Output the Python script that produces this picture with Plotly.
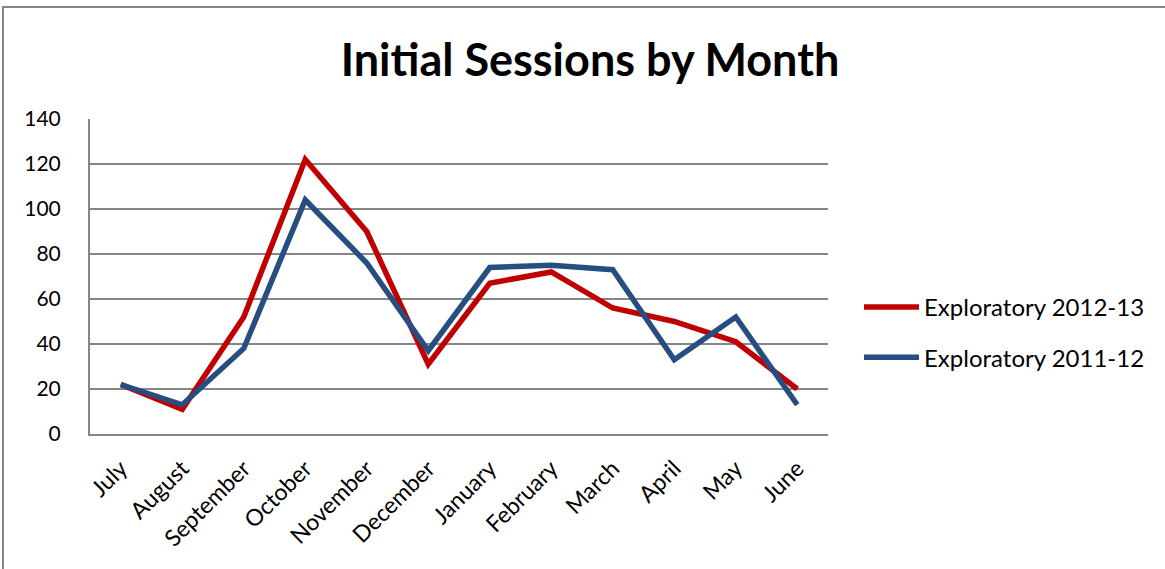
import plotly.graph_objects as go

months = ["July", "August", "September", "October", "November", "December",
          "January", "February", "March", "April", "May", "June"]
exploratory_2012_13 = [22, 11, 52, 122, 90, 31, 67, 72, 56, 50, 41, 20]
exploratory_2011_12 = [22, 13, 38, 104, 76, 37, 74, 75, 73, 33, 52, 13]
y_ticks = [0, 20, 40, 60, 80, 100, 120, 140]

W, H = 1165, 569
ml, mr, mt, mb = 90, 337, 119, 135
pw, ph = W - ml - mr, H - mt - mb

fig = go.Figure()
fig.add_trace(go.Scatter(x=list(range(len(months))), y=exploratory_2012_13, mode="lines",
                         name="Exploratory 2012-13", legendgroup="a",
                         line=dict(color="#C00000", width=5.5)))
fig.add_trace(go.Scatter(x=list(range(len(months))), y=exploratory_2011_12, mode="lines",
                         name="Exploratory 2011-12", legendgroup="b",
                         line=dict(color="#264E80", width=5.5)))

font = "Lato, 'Open Sans', sans-serif"
fig.update_layout(
    width=W, height=H,
    margin=dict(l=ml, r=mr, t=mt, b=mb),
    paper_bgcolor="white", plot_bgcolor="white",
    title=dict(text="<b>Initial Sessions by Month</b>", x=590 / W, xanchor="center",
               y=1 - 60 / H, yanchor="middle",
               font=dict(family=font, size=45, color="black")),
    xaxis=dict(range=[-0.5, len(months) - 0.5], tickmode="array",
               tickvals=list(range(len(months))), ticktext=months,
               tickangle=-45, showgrid=False, zeroline=False,
               showline=True, linecolor="#868686", linewidth=2,
               tickfont=dict(family=font, size=23, color="black"), ticks="",
               ticklabelstandoff=10),
    yaxis=dict(range=[0, 140], tickmode="array", tickvals=y_ticks,
               showgrid=True, gridcolor="#868686", gridwidth=1.5,
               zeroline=False, showline=True, linecolor="#868686", linewidth=2,
               tickfont=dict(family=font, size=21, color="black"), ticks="",
               ticklabelstandoff=23),
    legend=dict(x=(859 - ml) / pw, y=(434 - 285) / ph, xanchor="left", yanchor="top",
                font=dict(family=font, size=24, color="black"),
                itemwidth=55, tracegroupgap=16, bgcolor="rgba(0,0,0,0)"),
    showlegend=True,
)

# outer chart border
fig.add_shape(type="rect", xref="paper", yref="paper",
              x0=(3 - ml) / pw, x1=(W + 10 - ml) / pw,
              y0=(-mb - 20) / ph, y1=(434 - 7) / ph,
              line=dict(color="#868686", width=2), layer="below")

fig.write_html("out.html", config={"displayModeBar": False},
               post_script="document.body.style.margin='0';document.body.style.overflow='hidden';")
